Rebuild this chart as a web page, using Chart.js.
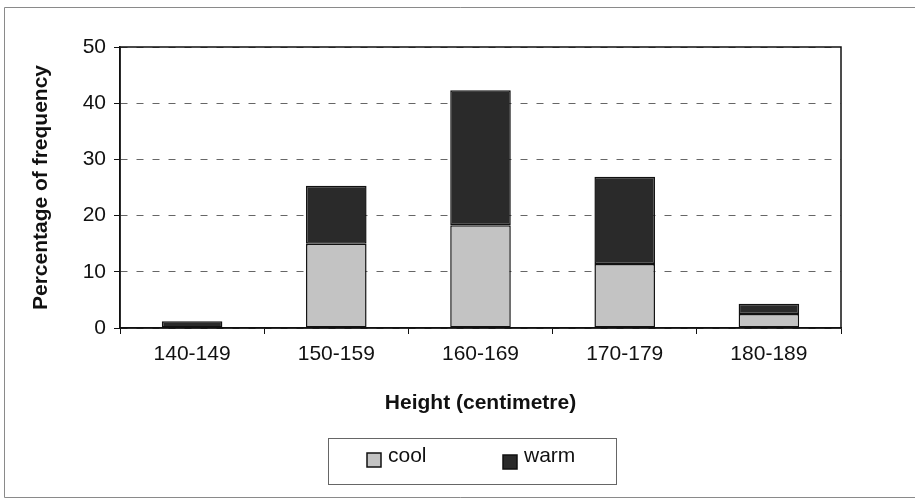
<!DOCTYPE html>
<html>
<head>
<meta charset="utf-8">
<script src="https://cdn.jsdelivr.net/npm/chart.js@4.4.0/dist/chart.umd.min.js"></script>
<style>
html, body { margin: 0; padding: 0; background: #fff; }
</style>
</head>
<body>
<canvas id="chart" width="915" height="498"></canvas>
<script>
// Data
const categories = ['140-149', '150-159', '160-169', '170-179', '180-189'];
const coolValues = [0, 15, 18.3, 11.4, 2.5];
const warmValues = [1.2, 10.3, 24, 15.5, 1.8];
const seriesNames = ['cool', 'warm'];
const yTicks = [0, 10, 20, 30, 40, 50];

const FONT = '"Liberation Sans", Arial, sans-serif';
const INK = '#111';

// page frame, plot box and the boxed legend
const framePlugin = {
    id: 'frame',
    beforeDraw(chart) {
        const ctx = chart.ctx;
        ctx.save();
        ctx.fillStyle = '#fff';
        ctx.fillRect(0, 0, chart.width, chart.height);
        ctx.restore();
    },
    afterDraw(chart) {
        const ctx = chart.ctx;
        const a = chart.chartArea;
        ctx.save();

        ctx.strokeStyle = '#8a8a8a';
        ctx.lineWidth = 1;
        ctx.beginPath();
        ctx.moveTo(916, 7.5);
        ctx.lineTo(4.5, 7.5);
        ctx.lineTo(4.5, 497.5);
        ctx.lineTo(916, 497.5);
        ctx.stroke();

        ctx.strokeStyle = INK;
        ctx.lineWidth = 1.5;
        ctx.strokeRect(a.left, a.top, a.right - a.left, a.bottom - a.top);

        // legend
        ctx.strokeStyle = '#666';
        ctx.lineWidth = 1;
        ctx.strokeRect(328.5, 438.5, 288, 46);
        ctx.font = '21px ' + FONT;
        ctx.textBaseline = 'alphabetic';
        chart.data.datasets.forEach((ds, i) => {
            const sx = 367 + i * 136, sy = 453 + i * 2;
            ctx.fillStyle = ds.backgroundColor;
            ctx.fillRect(sx, sy, 14, 14);
            ctx.strokeStyle = INK;
            ctx.lineWidth = 1.5;
            ctx.strokeRect(sx, sy, 14, 14);
            ctx.fillStyle = INK;
            ctx.fillText(ds.label, sx + 21, 462);
        });
        ctx.restore();
    }
};

const ctx = document.getElementById('chart').getContext('2d');
new Chart(ctx, {
    type: 'bar',
    data: {
        labels: categories,
        datasets: [
            {
                label: seriesNames[0],
                data: coolValues,
                backgroundColor: '#c3c3c3',
                borderColor: INK,
                borderWidth: 1.5,
                borderSkipped: false
            },
            {
                label: seriesNames[1],
                data: warmValues,
                backgroundColor: '#2a2a2a',
                borderColor: INK,
                borderWidth: 1.5,
                borderSkipped: false
            }
        ]
    },
    options: {
        responsive: false,
        animation: false,
        devicePixelRatio: 1,
        barPercentage: 0.42,
        categoryPercentage: 1,
        layout: { padding: { left: 10, top: 47, right: 74, bottom: 82 } },
        plugins: {
            legend: { display: false },
            tooltip: { enabled: false }
        },
        scales: {
            x: {
                stacked: true,
                afterFit: s => { s.height = 88; },
                grid: { drawOnChartArea: false, tickLength: 6, color: INK, lineWidth: 1 },
                border: { color: INK, width: 1.5 },
                ticks: { color: INK, padding: 8, maxRotation: 0, font: { family: FONT, size: 21 } },
                title: {
                    display: true,
                    text: 'Height (centimetre)',
                    color: INK,
                    font: { family: FONT, size: 21, weight: 'bold' },
                    padding: { top: 0, bottom: 0 }
                }
            },
            y: {
                stacked: true,
                min: yTicks[0],
                max: yTicks[yTicks.length - 1],
                afterFit: s => { s.width = 110; },
                grid: { color: '#666', lineWidth: 1, tickLength: 6, tickColor: INK },
                border: { color: INK, width: 1.5, dash: [7, 9] },
                ticks: { stepSize: yTicks[1] - yTicks[0], padding: 8, color: INK, font: { family: FONT, size: 21 } },
                title: {
                    display: true,
                    text: 'Percentage of frequency',
                    color: INK,
                    font: { family: FONT, size: 21, weight: 'bold' },
                    padding: { top: 19, bottom: 0 }
                }
            }
        }
    },
    plugins: [framePlugin]
});
</script>
</body>
</html>
